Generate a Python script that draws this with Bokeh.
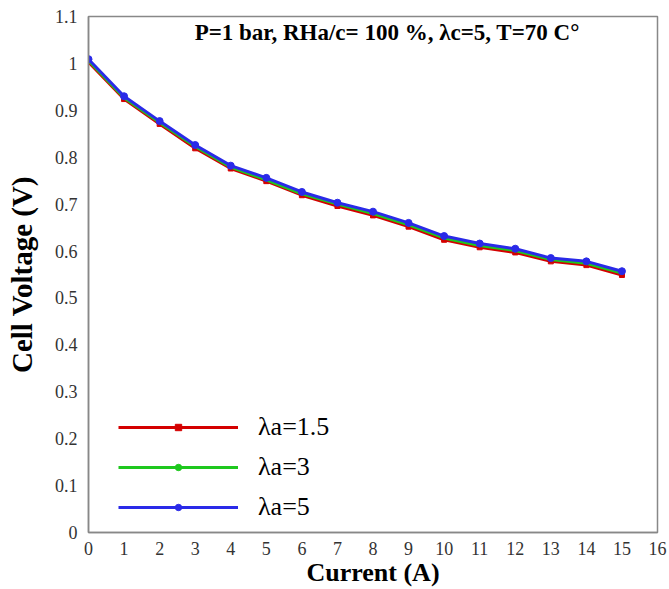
from bokeh.plotting import figure
from bokeh.models import Legend, LegendItem, Label, FixedTicker, Range1d
from bokeh.embed import file_html
from bokeh.resources import INLINE

current = [0, 1, 2, 3, 4, 5, 6, 7, 8, 9, 10, 11, 12, 13, 14, 15]
v_la15 = [1.003, 0.924, 0.871, 0.819, 0.776, 0.749, 0.719, 0.696, 0.676, 0.652, 0.624, 0.608, 0.597, 0.578, 0.570, 0.549]
v_la3 = [1.006, 0.927, 0.874, 0.823, 0.779, 0.752, 0.722, 0.700, 0.680, 0.656, 0.628, 0.612, 0.601, 0.582, 0.574, 0.553]
v_la5 = [1.009, 0.930, 0.877, 0.826, 0.782, 0.756, 0.726, 0.703, 0.684, 0.660, 0.632, 0.616, 0.605, 0.585, 0.578, 0.557]
labels = ["\u03bba=1.5", "\u03bba=3", "\u03bba=5"]
colors = ["#d40000", "#1ec81e", "#2a2ae8"]
x_ticks = list(range(0, 17))
y_ticks = [i / 10 for i in range(0, 12)]
y_tick_labels = ["0", "0.1", "0.2", "0.3", "0.4", "0.5", "0.6", "0.7", "0.8", "0.9", "1", "1.1"]
annotation = "P=1 bar, RHa/c= 100 %, \u03bbc=5, T=70 C\u00b0"

FONT = "Liberation Serif"

p = figure(width=669, height=589, output_backend="svg", toolbar_location=None,
           x_range=Range1d(0, 16), y_range=Range1d(0, 1.1),
           min_border_left=88, min_border_right=12, min_border_top=16, min_border_bottom=56)
p.grid.visible = False
p.outline_line_color = "#888888"
p.outline_line_width = 1.5
p.background_fill_color = "white"
p.border_fill_color = "white"

for ax in (p.xaxis[0], p.yaxis[0]):
    ax.major_tick_line_color = None
    ax.minor_tick_line_color = None
    ax.axis_line_color = "#888888"
    ax.axis_line_width = 1.5
    ax.major_label_text_font = FONT
    ax.major_label_text_font_size = "18px"
    ax.major_label_text_color = "#333333"
    ax.axis_label_text_font = FONT
    ax.axis_label_text_font_style = "bold"
    ax.axis_label_text_color = "black"

p.xaxis.axis_label_text_font_size = "26px"
p.yaxis.axis_label_text_font_size = "29px"
p.xaxis.ticker = FixedTicker(ticks=x_ticks)
p.yaxis.ticker = FixedTicker(ticks=y_ticks)
p.yaxis.major_label_overrides = {t: l for t, l in zip(y_ticks, y_tick_labels)}
p.xaxis.axis_label = "Current (A)"
p.yaxis.axis_label = "Cell Voltage (V)"
p.xaxis.major_label_standoff = 3
p.yaxis.major_label_standoff = 5
p.xaxis.axis_label_standoff = 0
p.yaxis.axis_label_standoff = 14

items = []
series = [v_la15, v_la3, v_la5]
markers = ["square", "circle", "circle"]
msizes = [5, 3, 7]
for ys, lab, c, m, ms in zip(series, labels, colors, markers, msizes):
    r1 = p.line(current, ys, line_color=c, line_width=3)
    r2 = p.scatter(current, ys, marker=m, size=ms, fill_color=c, line_color=c)
    items.append(LegendItem(label=lab, renderers=[r1, r2]))

legend = Legend(items=items, location=(30, 10), glyph_width=120, glyph_height=16,
                label_height=26, spacing=10, label_standoff=20, padding=0, margin=0,
                border_line_color=None, background_fill_alpha=0,
                label_text_font=FONT, label_text_font_size="26px", label_text_color="black")
p.add_layout(legend, "center")

p.add_layout(Label(x=8.4, y=1.065, text=annotation, text_font=FONT,
                   text_font_style="bold", text_font_size="23px", text_align="center",
                   text_baseline="middle", text_color="black"))

open("out.html", "w").write(file_html(p, INLINE))
